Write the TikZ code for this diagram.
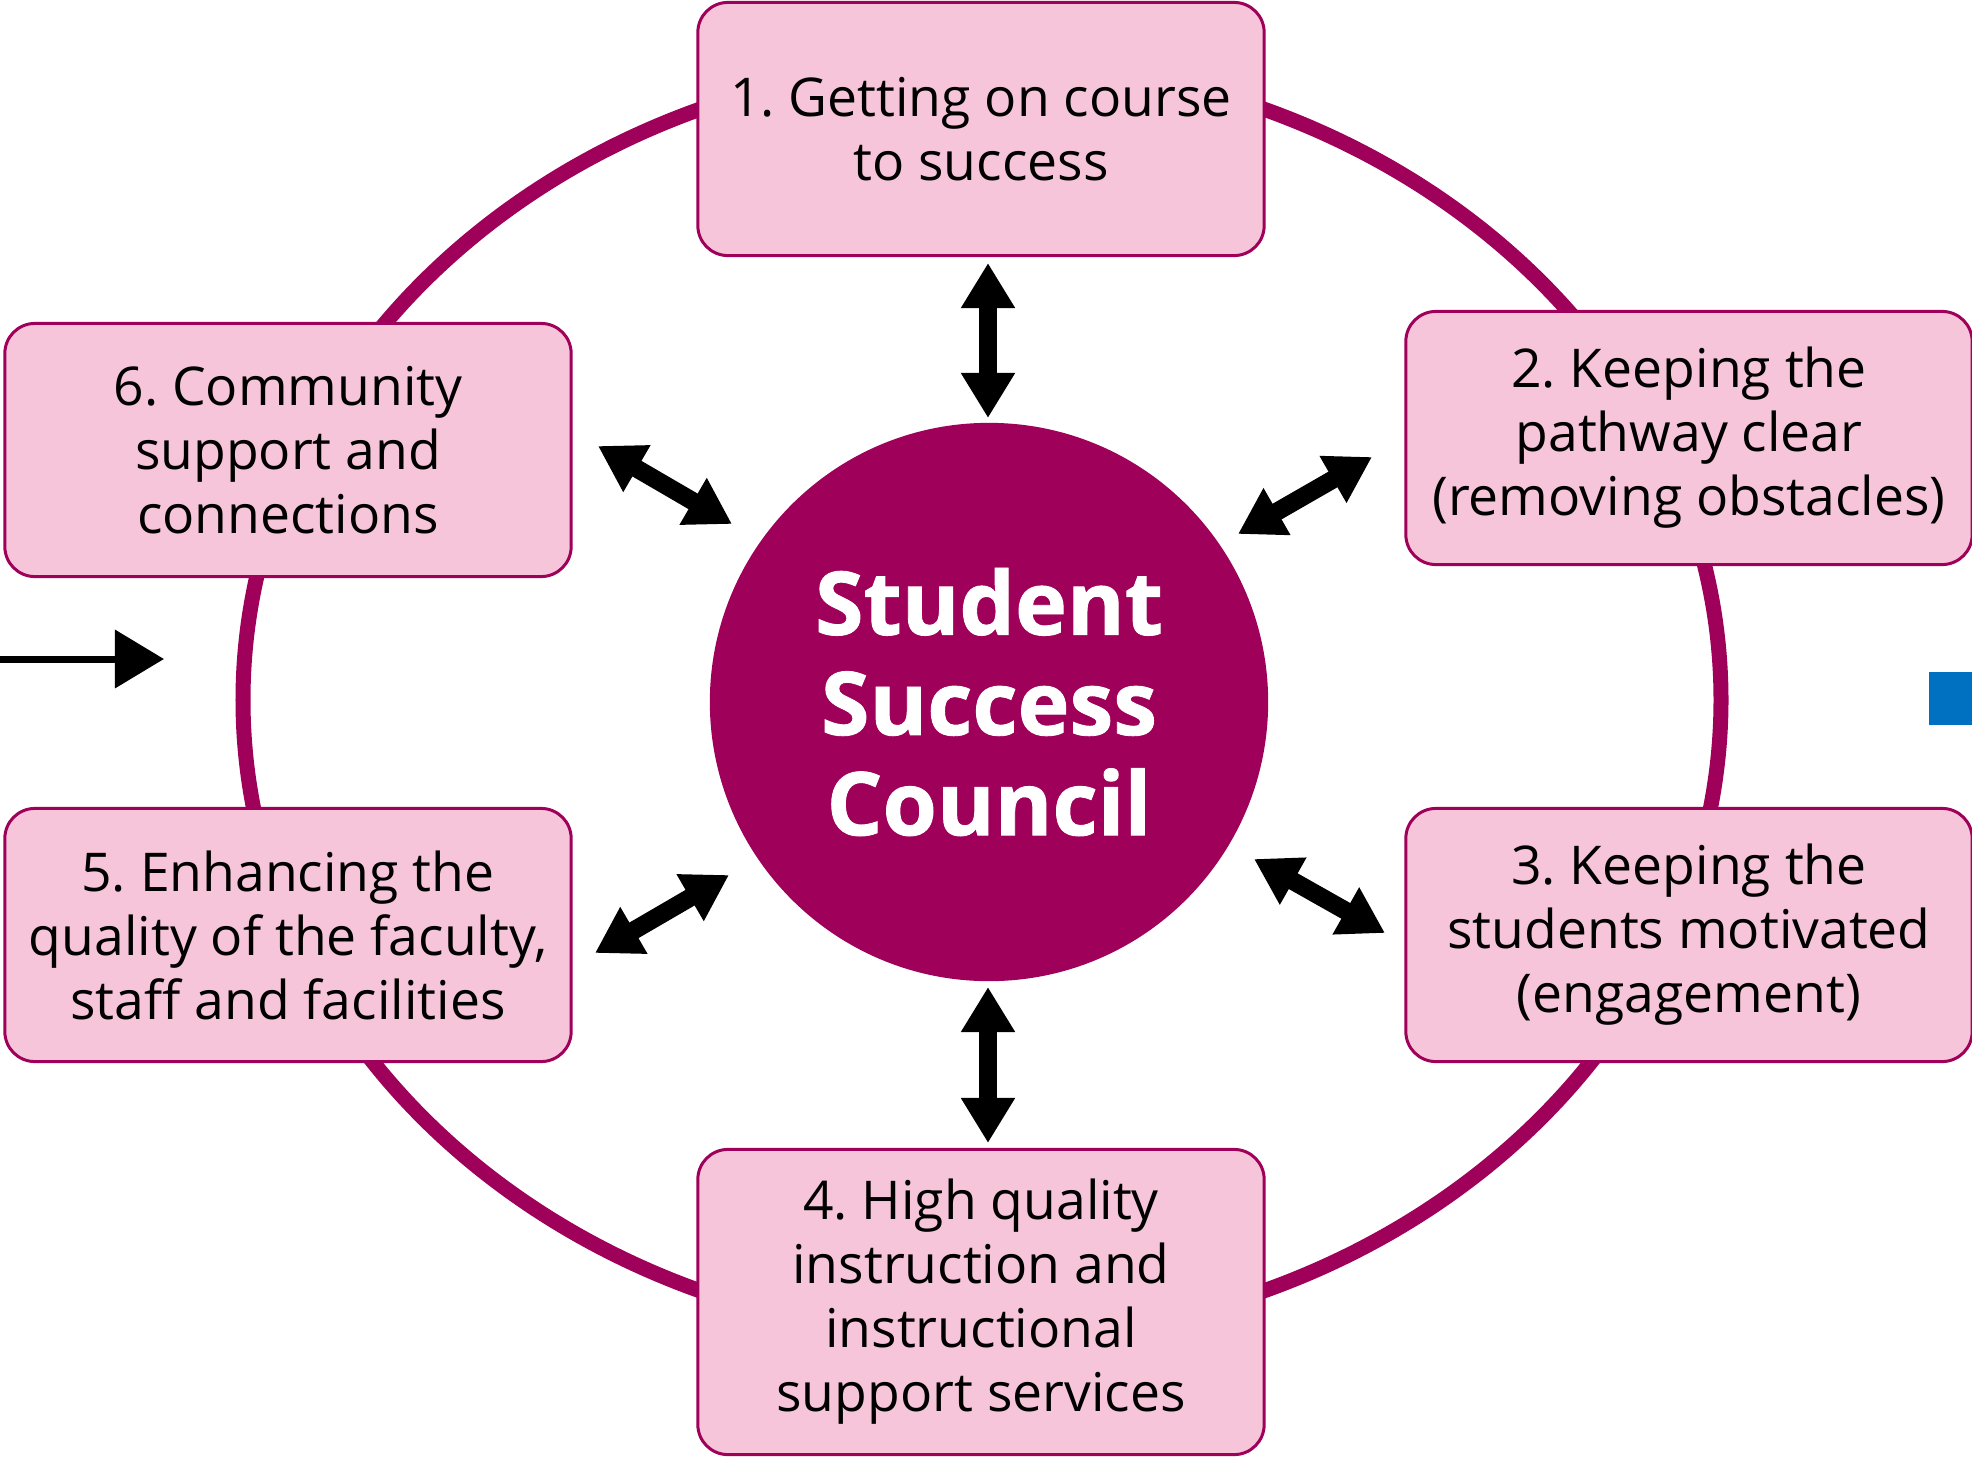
\documentclass[tikz,border=0pt]{standalone}
\usepackage{fontspec}
\setmainfont{Open Sans}
\newfontfamily\councilfont{Open Sans}[BoldFeatures={FakeBold=1}]
\usetikzlibrary{arrows.meta}
\definecolor{plum}{RGB}{158,0,90}
\definecolor{blush}{RGB}{247,197,218}
\definecolor{edgeblue}{RGB}{0,112,192}
\frenchspacing

\begin{document}
\begin{tikzpicture}[x=0.01cm,y=-0.01cm,
	goal/.style={draw=plum,line width=0.03cm,fill=blush,rounded corners=0.3cm,minimum width=5.66cm,minimum height=2.53cm,align=center,inner sep=0pt,font=\fontsize{15.2}{18.2}\selectfont},
	link/.style={line width=0.18cm,{Triangle[length=0.45cm,width=0.51cm]}-{Triangle[length=0.45cm,width=0.51cm]}}]
	\useasboundingbox(0,0) rectangle (1972,1457);
	\draw[plum,line width=0.15cm](982,700) ellipse [x radius=739,y radius=639];
	
	\node[goal] (B1) at (981,129) {1. Getting on course\\to success};
	\node[goal] (B2) at (1689,438) {2. Keeping the\\pathway clear\\(removing obstacles)};
	\node[goal] (B3) at (1689,935) {3. Keeping the\\students motivated\\(engagement)};
	\node[goal,minimum height=3.05cm] (B4) at (981,1302) {4. High quality\\instruction and\\instructional\\support services};
	\node[goal] (B5) at (288,935) {5. Enhancing the\\quality of the faculty,\\staff and facilities};
	\node[goal] (B6) at (288,450) {6. Community\\support and\\connections};
	
	\node[circle,fill=plum,minimum size=5.58cm,text=white,align=center,font=\councilfont\fontsize{25}{28.5}\selectfont\bfseries] (C) at (989,702) {Student\\Success\\Council};
	
	\coordinate (t1) at (988,263); \coordinate (c1) at (988,418);
	\coordinate (t2) at (1372,457); \coordinate (c2) at (1238,534);
	\coordinate (t3) at (1385,933); \coordinate (c3) at (1254,859);
	\coordinate (t4) at (988,1143); \coordinate (c4) at (988,987);
	\coordinate (t5) at (595,953); \coordinate (c5) at (729,875);
	\coordinate (t6) at (598,446); \coordinate (c6) at (732,524);
	\foreach \a/\b in {t1/c1,t2/c2,t3/c3,t4/c4,t5/c5,t6/c6}
		\draw[link](\a)--(\b);
	
	\coordinate (in0) at (0,659);
	\coordinate (in1) at (164,659);
	\draw[line width=0.07cm,-{Triangle[length=0.49cm,width=0.57cm]}](in0)--(in1);
	\fill[edgeblue](1929,672) rectangle (1972,725);
\end{tikzpicture}
\end{document}
